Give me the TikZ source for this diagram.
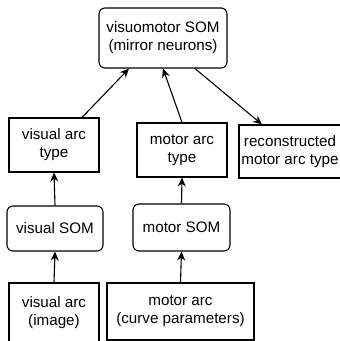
\documentclass[tikz,border=0pt]{standalone}
\usepackage{fontspec}
\setmainfont{Liberation Sans}
\usetikzlibrary{arrows.meta}

\begin{document}
\begin{tikzpicture}[x=1pt,y=-1pt,
  box/.style={draw,line width=1.1pt,minimum width=#1,align=center,inner sep=0pt,
    font=\fontsize{15.2}{18}\selectfont},
  som/.style={box=#1,rounded corners=6pt},
  arr/.style={-{Stealth[length=9pt,width=8pt]},line width=1.1pt}]
\useasboundingbox (0,0) rectangle (340,341);
\clip (0,0) rectangle (340,341);
\node[som=128pt,minimum height=60pt] (vmsom) at (163,38) {visuomotor SOM\\(mirror neurons)};
\node[box=90pt,minimum height=54pt] (vtype) at (54,145) {visual arc\\type};
\node[box=90pt,minimum height=54pt] (mtype) at (182,150) {motor arc\\type};
\node[box=102pt,minimum height=53pt] (rtype) at (290,151.5) {reconstructed\\motor arc type};
\node[som=96pt,minimum height=45pt] (vsom) at (55,228.5) {visual SOM};
\node[som=97pt,minimum height=47pt] (msom) at (181.5,227.5) {motor SOM};
\node[box=90pt,minimum height=60pt] (varc) at (54,313) {visual arc\\(image)};
\node[box=147pt,minimum height=57pt] (marc) at (180.5,311.5) {motor arc\\(curve parameters)};
\draw[arr] ([xshift=28pt]vtype.north) -- ([xshift=-34pt]vmsom.south);
\draw[arr] (mtype.north) -- (vmsom.south);
\draw[arr] ([xshift=32pt]vmsom.south) -- ([xshift=-28pt]rtype.north);
\draw[arr] (vsom.north) -- (vtype.south);
\draw[arr] (msom.north) -- (mtype.south);
\draw[arr] (varc.north) -- (vsom.south);
\draw[arr] (marc.north) -- (msom.south);
\end{tikzpicture}
\end{document}
